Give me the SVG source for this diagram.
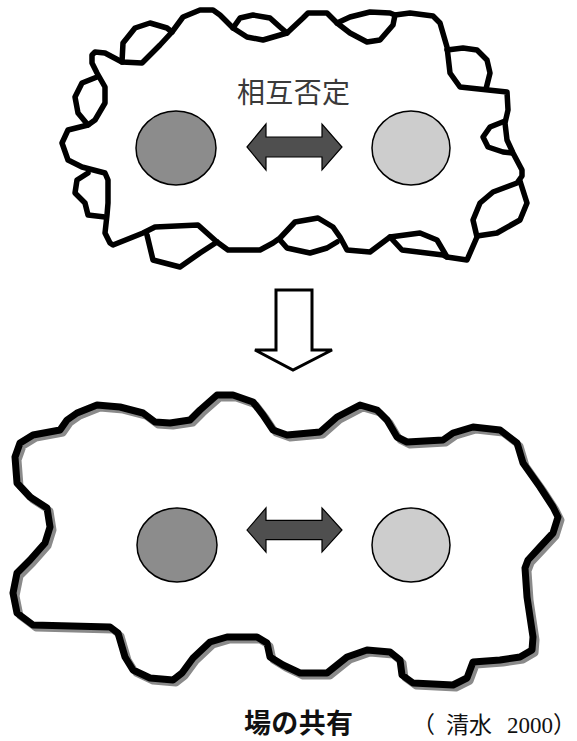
<svg xmlns="http://www.w3.org/2000/svg" width="577" height="741" viewBox="0 0 577 741">
  <style>
    .rough { fill: none; stroke: #000; stroke-width: 5.5; stroke-linejoin: round; stroke-linecap: round; }
    .field { fill: none; stroke: #000; stroke-width: 7; stroke-linejoin: round; stroke-linecap: round; }
    .field-shadow { fill: none; stroke: #8a8a8a; stroke-width: 7; stroke-linejoin: round; }
    .dark { fill: #8c8c8c; stroke: #000; stroke-width: 1.5; }
    .light { fill: #cdcdcd; stroke: #000; stroke-width: 1.5; }
    .dbl { fill: #4f4f4f; stroke: #000; stroke-width: 1.2; stroke-linejoin: miter; }
    .cjk { font-family: "Noto Sans CJK JP", "Noto Sans CJK SC", sans-serif; }
  </style>
  <defs>
    <path id="dblArrow" d="M0,0 L19,-23 L19,-10 L75,-10 L75,-23 L95,0 L75,23 L75,10 L19,10 L19,23 Z"/>
    <path id="fieldOutline" d="M60,430 L67,420 L77,413 L97,405 L120,407 L143,413 L155,422 L170,423 L190,420 L200,410 L217,395 L233,395 L253,402 L263,415 L273,430 L287,435 L320,432 L337,417 L360,405 L377,410 L387,420 L397,437 L407,442 L443,440 L453,433 L473,427 L500,430 L517,443 L523,463 L540,487 L553,507 L558,517 L553,533 L540,547 L528,560 L525,568 L527,597 L533,637 L532,650 L520,657 L500,660 L473,662 L467,678 L453,685 L413,683 L402,675 L400,660 L390,652 L367,650 L347,657 L337,665 L327,673 L300,673 L283,665 L270,657 L267,643 L257,637 L227,637 L210,642 L193,658 L182,673 L173,680 L150,678 L133,670 L125,657 L118,633 L110,627 L33,625 L17,613 L13,593 L17,573 L30,560 L45,543 L50,527 L47,508 L30,497 L17,483 L15,457 L20,443 L33,435 Z"/>
  </defs>

  <rect width="577" height="741" fill="#fff"/>

  <!-- upper state: rough boundary with mutual negation -->
  <g id="negation-field">
    <path class="rough" fill="#fff" d="M122,62 L142,63 L160,45 L172,32 L183,17 L200,10 L213,10 L220,15 L233,28 L247,37 L263,40 L287,33 L303,18 L308,13 L327,13 L337,23 L350,33 L367,42 L380,40 L393,25 L395,15 L410,13 L433,16 L440,23 L447,47 L450,73 L460,87 L507,92 L508,110 L505,123 L507,140 L513,153 L522,170 L522,176 L517,183 L493,192 L480,203 L473,220 L477,237 L467,260 L447,257 L437,240 L420,233 L390,237 L370,252 L347,250 L340,237 L333,227 L318,218 L295,222 L280,238 L273,243 L260,250 L228,250 L217,242 L198,225 L155,227 L143,233 L113,245 L110,243 L105,233 L107,215 L108,203 L108,180 L105,173 L82,167 L68,160 L62,143 L68,130 L88,125 L95,120 L105,103 L105,87 L97,73 L92,63 L92,55 L95,52 L105,53 Z"/>
    <!-- small loops along the edge -->
    <path class="rough" d="M122,62 L123,43 L135,28 L150,23 L167,28 L172,32"/>
    <path class="rough" d="M233,28 L240,18 L253,15 L270,18 L280,27 L287,33"/>
    <path class="rough" d="M337,23 L350,17 L370,12 L390,13 L395,15"/>
    <path class="rough" d="M447,50 L463,48 L477,50 L487,60 L490,73 L486,89"/>
    <path class="rough" d="M505,121 L490,127 L483,137 L488,147 L503,152 L512,153"/>
    <path class="rough" d="M520,181 L527,203 L520,220 L497,233 L477,236"/>
    <path class="rough" d="M390,237 L402,250 L443,255 L447,257"/>
    <path class="rough" d="M280,240 L287,248 L310,253 L327,248 L337,242"/>
    <path class="rough" d="M147,235 L153,260 L180,267 L190,260 L200,253 L217,242"/>
    <path class="rough" d="M97,77 L82,83 L75,97 L78,113 L88,125"/>
    <path class="rough" d="M88,173 L77,180 L75,193 L85,203 L88,215 L105,217"/>
  </g>

  <g id="node-a-top">
    <ellipse class="dark" cx="176" cy="148" rx="40" ry="37"/>
  </g>
  <g id="node-b-top">
    <ellipse class="light" cx="411" cy="148" rx="39" ry="37"/>
  </g>
  <g id="label-negation">
    <text class="cjk" x="237" y="103" font-size="28" fill="#3a3a3a" textLength="113">相互否定</text>
  </g>

  <!-- transition arrow -->
  <g id="transition">
    <polygon points="276,290 312,290 312,350 332,350 293,370 255,350 276,350" fill="#fff" stroke="#000" stroke-width="3" stroke-linejoin="miter"/>
  </g>

  <!-- lower state: shared field -->
  <g id="shared-field">
    <use href="#fieldOutline" fill="#fff" stroke="none"/>
    <use href="#fieldOutline" class="field-shadow" transform="translate(3,3)"/>
    <use href="#fieldOutline" class="field"/>
  </g>

  <g id="node-a-bottom">
    <ellipse class="dark" cx="177" cy="545" rx="40" ry="37"/>
  </g>
  <g id="node-b-bottom">
    <ellipse class="light" cx="411" cy="545" rx="39" ry="37"/>
  </g>

  <g id="connectors">
    <use href="#dblArrow" class="dbl" transform="translate(247,147)"/>
    <use href="#dblArrow" class="dbl" transform="translate(247,530) scale(1,0.96)"/>
  </g>

  <g id="caption">
    <text class="cjk" x="244" y="733" font-size="27" font-weight="bold" fill="#111" textLength="109">場の共有</text>
    <text class="cjk" x="412" y="733" font-size="23" fill="#111">（</text>
    <text class="cjk" x="446" y="733" font-size="23" fill="#111">清水</text>
    <text x="507" y="733" font-family="Liberation Serif, serif" font-size="23" fill="#111">2000</text>
    <text class="cjk" x="553" y="733" font-size="23" fill="#111">）</text>
  </g>
</svg>
